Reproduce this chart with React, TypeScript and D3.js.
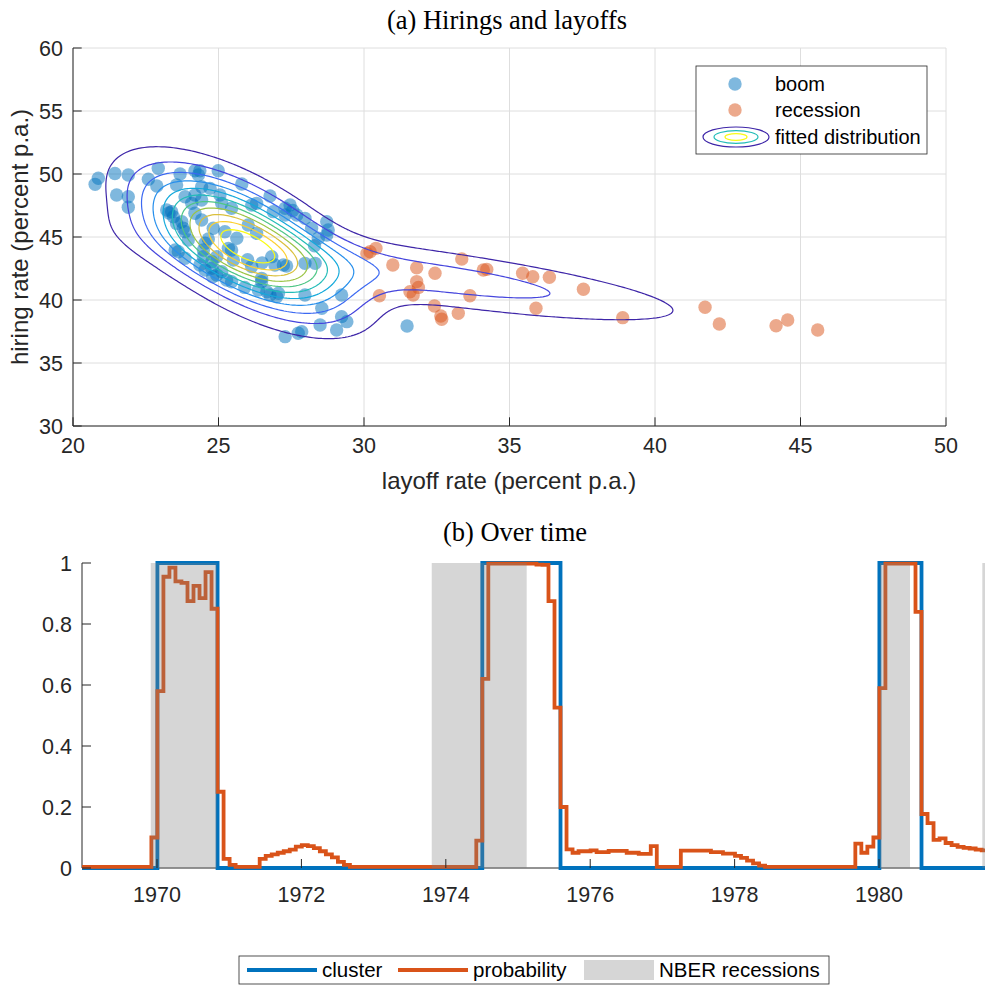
import React from "react";
import * as d3 from "d3";

// ---------- panel (a): hirings vs layoffs ----------
const boomLayoff = [
  20.87, 20.76, 21.44, 21.9, 21.5, 21.9, 21.9, 22.59, 22.93, 22.88, 23.68, 24.19, 24.36, 24.31, 24.99,
  23.56, 24.42, 24.71, 25.8, 26.77, 23.85, 24.19, 24.08, 24.42, 25.05, 25.11, 25.45, 26.14, 23.22,
  23.39, 23.45, 23.74, 24.19, 24.42, 23.85, 23.96, 24.82, 25.22, 25.63, 25.34, 26.02, 26.31, 26.88,
  27.29, 27.46, 27.29, 27.69, 27.97, 28.2, 28.43, 28.72, 28.77, 28.72, 23.62, 23.85, 23.51, 24.48,
  24.36, 24.54, 24.77, 24.94, 24.77, 25.11, 24.94, 25.45, 25.51, 25.28, 25.45, 26.14, 26.48, 26.48,
  26.66, 26.37, 26.77, 26.94, 26.83, 27.23, 27.34, 27.06, 27.0, 27.97, 28.32, 27.97, 28.55, 29.23,
  28.49, 29.23, 29.41, 29.06, 27.29, 27.74, 27.86, 26.31, 23.56, 23.79, 24.48, 24.54, 31.48, 26.0,
  26.5, 24.65, 23.3, 27.55, 28.3, 25.9, 24.8,
];
const boomHiring = [
  49.66, 49.18, 50.04, 49.92, 48.33, 48.2, 47.36, 49.58, 50.45, 49.05, 50.0, 50.26, 50.26, 49.92, 50.26,
  49.13, 48.99, 48.86, 49.21, 48.25, 48.2, 48.33, 47.67, 47.94, 48.33, 47.67, 47.28, 47.54, 47.14,
  47.01, 46.61, 46.21, 46.88, 46.35, 45.42, 44.76, 45.69, 45.42, 44.9, 44.1, 45.95, 45.29, 47.01,
  47.28, 47.54, 46.75, 46.75, 46.48, 45.69, 44.9, 46.21, 45.56, 45.16, 43.83, 43.31, 43.97, 43.44,
  42.78, 44.5, 43.04, 43.44, 42.52, 42.25, 41.98, 43.97, 43.17, 41.59, 41.45, 42.65, 41.72, 41.45,
  40.66, 40.79, 40.4, 42.78, 43.44, 42.78, 42.7, 40.53, 40.26, 42.91, 42.91, 40.4, 39.34, 40.4,
  38.02, 38.68, 38.28, 37.62, 37.09, 37.36, 37.49, 47.67, 46.08, 45.69, 43.97, 42.38, 37.94, 43.2,
  42.95, 44.85, 46.9, 47.1, 44.3, 41.0, 41.85,
];
const recLayoff = [
  30.21, 30.41, 30.1, 30.99, 31.81, 32.44, 33.36, 34.1, 34.22, 35.45, 35.8, 36.37, 37.54, 31.81, 31.87,
  31.58, 31.69, 30.53, 33.64, 32.42, 32.64, 32.67, 33.24, 35.91, 38.89, 41.72, 42.21, 44.16, 44.56, 45.59,
];
const recHiring = [
  43.83, 44.1, 43.7, 42.78, 42.56, 42.12, 43.25, 42.38, 42.43, 42.12, 41.85, 41.8, 40.85, 41.46, 41.0,
  40.66, 40.4, 40.34, 40.34, 39.52, 38.73, 38.47, 38.94, 39.34, 38.6, 39.42, 38.1, 37.96, 38.41, 37.62,
];
const layoffTicks = [20, 25, 30, 35, 40, 45, 50];
const hiringTicks = [30, 35, 40, 45, 50, 55, 60];

// fitted two-component gaussian mixture (boom, recession)
const mixWeight = [0.725, 0.275];
const mixMeanX = [25.83, 32.4];
const mixMeanY = [44.55, 41.8];
const mixSdX = [2.15, 6.1];
const mixSdY = [3.5, 2.5];
const mixRho = [-0.63, -0.78];
const contourCount = 11;
const parulaStops = ["#3e26a8", "#4852f4", "#2a8bee", "#0db0d6", "#38c799", "#a5c43c", "#fdbe3d", "#f9fb15"];

// ---------- panel (b): monthly series ----------
const firstMonth = 1968.922;
const probability = [
  0.004, 0.004, 0.004, 0.004, 0.004, 0.004, 0.004, 0.004, 0.004, 0.004, 0.004, 0.004,
  0.1, 0.58, 0.955, 0.985, 0.94, 0.935, 0.875, 0.925, 0.885, 0.97, 0.85, 0.25, 0.03, 0.01,
  0.004, 0.004, 0.004, 0.004,
  0.03, 0.04, 0.045, 0.05, 0.055, 0.06, 0.07, 0.075, 0.072, 0.065, 0.055, 0.045, 0.035, 0.02, 0.01,
  0.004, 0.004, 0.004, 0.004, 0.004, 0.004, 0.004, 0.004, 0.004, 0.004, 0.004, 0.004, 0.004, 0.004,
  0.004, 0.004, 0.004, 0.004, 0.004, 0.004, 0.004,
  0.09, 0.62, 0.998, 0.998, 0.998, 0.998, 0.998, 0.998, 0.998, 0.998, 0.995, 0.994,
  0.875, 0.526, 0.2,
  0.061, 0.05, 0.055, 0.055, 0.058, 0.052, 0.052, 0.056, 0.056, 0.056, 0.05, 0.05, 0.046, 0.046, 0.072,
  0.004, 0.004, 0.004, 0.004,
  0.057, 0.057, 0.057, 0.057, 0.057, 0.052, 0.052, 0.047, 0.047, 0.04, 0.033, 0.024, 0.015, 0.008,
  0.004, 0.004, 0.004, 0.004, 0.004, 0.004, 0.004, 0.004, 0.004, 0.004, 0.004, 0.004, 0.004, 0.004, 0.004,
  0.08, 0.05, 0.07, 0.1, 0.59, 0.998, 0.998, 0.998, 0.998, 0.998,
  0.84, 0.177, 0.147, 0.092, 0.097, 0.082, 0.075, 0.069, 0.066, 0.064, 0.06, 0.058, 0.056,
];
const cluster = [
  0, 0, 0, 0, 0, 0, 0, 0, 0, 0, 0, 0, 0,
  1, 1, 1, 1, 1, 1, 1, 1, 1, 1,
  0, 0, 0, 0, 0, 0, 0, 0, 0, 0, 0, 0, 0, 0, 0, 0, 0, 0, 0, 0, 0, 0,
  0, 0, 0, 0, 0, 0, 0, 0, 0, 0, 0, 0, 0, 0, 0, 0, 0, 0, 0, 0, 0, 0,
  1, 1, 1, 1, 1, 1, 1, 1, 1, 1, 1, 1, 1,
  0, 0, 0, 0, 0, 0, 0, 0, 0, 0, 0, 0, 0, 0, 0, 0, 0, 0, 0, 0, 0, 0, 0, 0, 0, 0,
  0, 0, 0, 0, 0, 0, 0, 0, 0, 0, 0, 0, 0, 0, 0, 0, 0, 0, 0, 0, 0, 0, 0, 0, 0, 0, 0,
  1, 1, 1, 1, 1, 1, 1,
  0, 0, 0, 0, 0, 0, 0, 0, 0, 0, 0, 0,
];
const nberStart = [1969.913, 1973.805, 1980.014, 1981.431];
const nberEnd = [1970.827, 1975.12, 1980.429, 1982.5];
const yearTicks = [1970, 1972, 1974, 1976, 1978, 1980];
const probTicks = [0, 0.2, 0.4, 0.6, 0.8, 1];

const SANS = "'Liberation Sans', Arial, Helvetica, sans-serif";
const SERIF = "'Liberation Serif', 'Times New Roman', serif";
const AX = "#262626";
const BLUE = "#0072BD";
const ORANGE = "#D95319";
const LEGEND_FONT = 20.5;

function mixDensity(x: number, y: number) {
  let s = 0;
  for (let k = 0; k < mixWeight.length; k++) {
    const dx = (x - mixMeanX[k]) / mixSdX[k];
    const dy = (y - mixMeanY[k]) / mixSdY[k];
    const r = mixRho[k];
    const q = (dx * dx - 2 * r * dx * dy + dy * dy) / (1 - r * r);
    s += (mixWeight[k] * Math.exp(-q / 2)) / (2 * Math.PI * mixSdX[k] * mixSdY[k] * Math.sqrt(1 - r * r));
  }
  return s;
}

const ScatterPanel = () => {
  const x = d3.scaleLinear().domain([20, 50]).range([73, 946]);
  const y = d3.scaleLinear().domain([30, 60]).range([426, 48]);
  const parula = d3.piecewise(d3.interpolateRgb, parulaStops);

  const NX = 300, NY = 300;
  const values: number[] = new Array(NX * NY);
  for (let j = 0; j < NY; j++)
    for (let i = 0; i < NX; i++)
      values[i + j * NX] = mixDensity(20 + ((i + 0.5) * 30) / NX, 30 + ((j + 0.5) * 30) / NY);
  const vmax = d3.max(values) as number;
  const levels = d3.range(1, contourCount + 1).map((k) => (k * vmax) / (contourCount + 1));
  const polys = d3.contours().size([NX, NY]).thresholds(levels)(values);
  const proj = d3.geoTransform({
    point(this: any, px: number, py: number) {
      this.stream.point(x(20 + (px * 30) / NX), y(30 + (py * 30) / NY));
    },
  });
  const path = d3.geoPath(proj);
  const tick = 8.7;

  return (
    <g>
      <text x={507} y={29} textAnchor="middle" fontFamily={SERIF} fontSize={26.5} fill="#000">
        (a) Hirings and layoffs
      </text>
      {layoffTicks.map((t) => (
        <line key={"gx" + t} x1={x(t)} x2={x(t)} y1={y(30)} y2={y(60)} stroke="#dedede" strokeWidth={1} />
      ))}
      {hiringTicks.map((t) => (
        <line key={"gy" + t} x1={x(20)} x2={x(50)} y1={y(t)} y2={y(t)} stroke="#dedede" strokeWidth={1} />
      ))}
      {boomLayoff.map((v, i) => (
        <circle key={"b" + i} cx={x(v)} cy={y(boomHiring[i])} r={6.7} fill={BLUE} fillOpacity={0.5} />
      ))}
      {recLayoff.map((v, i) => (
        <circle key={"r" + i} cx={x(v)} cy={y(recHiring[i])} r={6.7} fill={ORANGE} fillOpacity={0.5} />
      ))}
      {polys.map((p, k) => (
        <path key={"c" + k} d={path(p as any) || ""} fill="none" stroke={parula(k / (contourCount - 1))} strokeWidth={1.2} />
      ))}
      <line x1={x(20)} x2={x(50)} y1={y(30)} y2={y(30)} stroke={AX} />
      <line x1={x(20)} x2={x(20)} y1={y(30)} y2={y(60)} stroke={AX} />
      {layoffTicks.map((t) => (
        <g key={"tx" + t}>
          <line x1={x(t)} x2={x(t)} y1={y(30)} y2={y(30) - tick} stroke={AX} />
          <text x={x(t)} y={453} textAnchor="middle" fontFamily={SANS} fontSize={21.5} fill={AX}>
            {t}
          </text>
        </g>
      ))}
      {hiringTicks.map((t) => (
        <g key={"ty" + t}>
          <line x1={x(20)} x2={x(20) + tick} y1={y(t)} y2={y(t)} stroke={AX} />
          <text x={63} y={y(t)} dy="0.36em" textAnchor="end" fontFamily={SANS} fontSize={21.5} fill={AX}>
            {t}
          </text>
        </g>
      ))}
      <text x={509} y={489} textAnchor="middle" fontFamily={SANS} fontSize={24} fill={AX}>
        layoff rate (percent p.a.)
      </text>
      <text transform="translate(28,237) rotate(-90)" textAnchor="middle" fontFamily={SANS} fontSize={24} fill={AX}>
        hiring rate (percent p.a.)
      </text>
      {/* legend */}
      <rect x={696} y={66} width={231} height={88} fill="#fff" stroke={AX} strokeWidth={0.8} />
      <circle cx={735} cy={84} r={6.7} fill={BLUE} fillOpacity={0.5} />
      <text x={775} y={84} dy="0.36em" fontFamily={SANS} fontSize={LEGEND_FONT - 0.5} fill="#000">boom</text>
      <circle cx={735} cy={110} r={6.7} fill={ORANGE} fillOpacity={0.5} />
      <text x={775} y={110} dy="0.36em" fontFamily={SANS} fontSize={LEGEND_FONT - 0.5} fill="#000">recession</text>
      <ellipse cx={736} cy={137} rx={33} ry={10} fill="none" stroke={parula(0)} strokeWidth={1.2} />
      <ellipse cx={736} cy={137} rx={22} ry={6.3} fill="none" stroke={parula(0.5)} strokeWidth={1.2} />
      <ellipse cx={736} cy={137} rx={11} ry={3.3} fill="none" stroke={parula(1)} strokeWidth={1.2} />
      <text x={775} y={137} dy="0.36em" fontFamily={SANS} fontSize={LEGEND_FONT - 0.5} fill="#000">fitted distribution</text>
    </g>
  );
};

const TimePanel = () => {
  const x = d3.scaleLinear().domain([1968.961, 1981.468]).range([82, 985]);
  const y = d3.scaleLinear().domain([0, 1]).range([868, 563]);
  const stairs = (vals: number[]) => {
    const pts: [number, number][] = vals.map((v, i) => [firstMonth + i / 12, v]);
    pts.push([firstMonth + vals.length / 12, vals[vals.length - 1]]);
    return d3.line<[number, number]>().x((d) => x(d[0])).y((d) => y(d[1])).curve(d3.curveStepAfter)(pts) || "";
  };
  const tick = 9;

  return (
    <g>
      <defs>
        <clipPath id="clipB">
          <rect x={82} y={550} width={903} height={330} />
        </clipPath>
      </defs>
      <text x={515} y={541} textAnchor="middle" fontFamily={SERIF} fontSize={26.5} fill="#000">
        (b) Over time
      </text>
      <line x1={82} x2={985} y1={y(0)} y2={y(0)} stroke={AX} />
      <line x1={82} x2={82} y1={y(0)} y2={y(1)} stroke={AX} />
      <g clipPath="url(#clipB)">
        <path d={stairs(cluster)} fill="none" stroke={BLUE} strokeWidth={3.8} />
        <path d={stairs(probability)} fill="none" stroke={ORANGE} strokeWidth={3.8} />
        {nberStart.map((s, i) => (
          <rect key={"n" + i} x={x(s)} width={x(nberEnd[i]) - x(s)} y={y(1)} height={y(0) - y(1)} fill="#808080" fillOpacity={0.32} />
        ))}
      </g>
      {yearTicks.map((t) => (
        <g key={"yt" + t}>
          <line x1={x(t)} x2={x(t)} y1={y(0)} y2={y(0) - tick} stroke={AX} />
          <text x={x(t)} y={902} textAnchor="middle" fontFamily={SANS} fontSize={21.5} fill={AX}>
            {t}
          </text>
        </g>
      ))}
      {probTicks.map((t) => (
        <g key={"pt" + t}>
          <line x1={82} x2={82 + tick} y1={y(t)} y2={y(t)} stroke={AX} />
          <text x={72} y={y(t)} dy="0.36em" textAnchor="end" fontFamily={SANS} fontSize={21.5} fill={AX}>
            {t}
          </text>
        </g>
      ))}
      {/* legend */}
      <rect x={239} y={956} width={590} height={28} fill="#fff" stroke={AX} strokeWidth={0.8} />
      <line x1={247} x2={317} y1={970} y2={970} stroke={BLUE} strokeWidth={3.8} />
      <text x={322} y={970} dy="0.36em" fontFamily={SANS} fontSize={LEGEND_FONT} fill="#000">cluster</text>
      <line x1={398} x2={468} y1={970} y2={970} stroke={ORANGE} strokeWidth={3.8} />
      <text x={473} y={970} dy="0.36em" fontFamily={SANS} fontSize={LEGEND_FONT} fill="#000">probability</text>
      <rect x={584} y={960} width={70} height={20} fill="#808080" fillOpacity={0.32} />
      <text x={659} y={970} dy="0.36em" fontFamily={SANS} fontSize={LEGEND_FONT} fill="#000">NBER recessions</text>
    </g>
  );
};

export default function App() {
  return (
    <svg
      width={987}
      height={988}
      viewBox="0 0 987 988"
      style={{ position: "absolute", left: 0, top: 0, background: "#fff" }}
    >
      <rect width={987} height={988} fill="#fff" />
      <ScatterPanel />
      <TimePanel />
    </svg>
  );
}
